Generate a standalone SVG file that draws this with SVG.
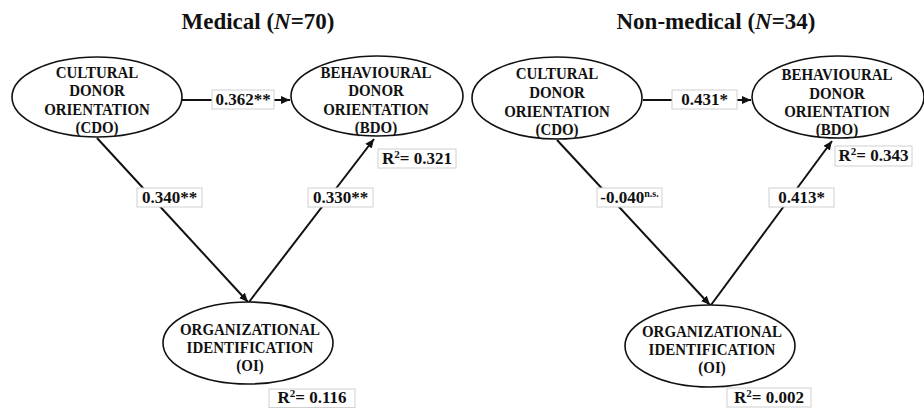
<svg xmlns="http://www.w3.org/2000/svg" width="924" height="408" viewBox="0 0 924 408">
<style>
  .bg{fill:#ffffff}
  .title{font-family:"Liberation Serif","Times New Roman",serif;font-weight:bold;font-size:23px;fill:#111;text-anchor:middle}
  .node ellipse{fill:#fff;stroke:#111;stroke-width:1.6}
  .nt{font-family:"Liberation Serif","Times New Roman",serif;font-weight:bold;font-size:17px;fill:#111;text-anchor:middle}
  .lbl rect{fill:#fff;stroke:#d0d0d0;stroke-width:1}
  .lt{font-family:"Liberation Serif","Times New Roman",serif;font-weight:bold;font-size:17px;fill:#111;text-anchor:middle}
  .edge{stroke:#111;stroke-width:2;fill:none;marker-end:url(#arr)}
</style>
<defs>
  <marker id="arr" markerUnits="userSpaceOnUse" markerWidth="10" markerHeight="10" refX="9" refY="4" orient="auto">
    <path d="M0,0 L9,4 L0,8 Z" fill="#111"/>
  </marker>
</defs>
<rect class="bg" x="0" y="0" width="924" height="408"/>

<text class="title" x="258" y="29">Medical (<tspan font-style="italic">N</tspan>=70)</text>
<text class="title" x="716" y="29">Non-medical (<tspan font-style="italic">N</tspan>=34)</text>

<g id="connectors">
  <line class="edge" x1="182" y1="100" x2="290" y2="100"/>
  <line class="edge" x1="97" y1="138" x2="248" y2="302"/>
  <line class="edge" x1="249" y1="302" x2="374" y2="139"/>
  <line class="edge" x1="643" y1="100" x2="751" y2="100"/>
  <line class="edge" x1="557" y1="140" x2="710" y2="305"/>
  <line class="edge" x1="711" y1="305" x2="832" y2="141"/>
</g>

<g id="m-cdo" class="node">
  <ellipse cx="97" cy="97" rx="85" ry="40"/>
  <g transform="translate(97 0) scale(0.88 1)">
    <text class="nt" x="0" y="78">CULTURAL</text>
    <text class="nt" x="0" y="96">DONOR</text>
    <text class="nt" x="0" y="115">ORIENTATION</text>
    <text class="nt" x="0" y="133">(CDO)</text>
  </g>
</g>
<g id="m-bdo" class="node">
  <ellipse cx="377" cy="96" rx="86" ry="40"/>
  <g transform="translate(376 0) scale(0.88 1)">
    <text class="nt" x="0" y="78">BEHAVIOURAL</text>
    <text class="nt" x="0" y="96">DONOR</text>
    <text class="nt" x="0" y="115">ORIENTATION</text>
    <text class="nt" x="0" y="133">(BDO)</text>
  </g>
</g>
<g id="m-oi" class="node">
  <ellipse cx="248" cy="343" rx="85" ry="41"/>
  <g transform="translate(250 0) scale(0.88 1)">
    <text class="nt" x="0" y="335">ORGANIZATIONAL</text>
    <text class="nt" x="0" y="353">IDENTIFICATION</text>
    <text class="nt" x="0" y="371">(OI)</text>
  </g>
</g>

<g id="n-cdo" class="node">
  <ellipse cx="557" cy="98" rx="85" ry="41"/>
  <g transform="translate(557 0) scale(0.88 1)">
    <text class="nt" x="0" y="79">CULTURAL</text>
    <text class="nt" x="0" y="98">DONOR</text>
    <text class="nt" x="0" y="117">ORIENTATION</text>
    <text class="nt" x="0" y="135">(CDO)</text>
  </g>
</g>
<g id="n-bdo" class="node">
  <ellipse cx="838" cy="97" rx="86" ry="41"/>
  <g transform="translate(837 0) scale(0.88 1)">
    <text class="nt" x="0" y="80">BEHAVIOURAL</text>
    <text class="nt" x="0" y="99">DONOR</text>
    <text class="nt" x="0" y="117">ORIENTATION</text>
    <text class="nt" x="0" y="135">(BDO)</text>
  </g>
</g>
<g id="n-oi" class="node">
  <ellipse cx="710" cy="346" rx="85" ry="41"/>
  <g transform="translate(712 0) scale(0.88 1)">
    <text class="nt" x="0" y="337">ORGANIZATIONAL</text>
    <text class="nt" x="0" y="355">IDENTIFICATION</text>
    <text class="nt" x="0" y="373">(OI)</text>
  </g>
</g>

<g id="labels">
  <g class="lbl"><rect x="212" y="90" width="62" height="19"/><text class="lt" x="243" y="105">0.362**</text></g>
  <g class="lbl"><rect x="137" y="188" width="65" height="19"/><text class="lt" x="169.5" y="203">0.340**</text></g>
  <g class="lbl"><rect x="308" y="188" width="65" height="19"/><text class="lt" x="340.5" y="203">0.330**</text></g>
  <g class="lbl"><rect x="378" y="149" width="78" height="19"/><text class="lt" x="417" y="164">R<tspan font-size="11" dy="-6">2</tspan><tspan dy="6">= 0.321</tspan></text></g>
  <g class="lbl"><rect x="269" y="389" width="86" height="18.5"/><text class="lt" x="312" y="403">R<tspan font-size="11" dy="-6">2</tspan><tspan dy="6">= 0.116</tspan></text></g>

  <g class="lbl"><rect x="672" y="90" width="65" height="19"/><text class="lt" x="704.5" y="105">0.431*</text></g>
  <g class="lbl"><rect x="597" y="188" width="65" height="19"/><text class="lt" x="629.5" y="203">-0.040<tspan font-size="10" dy="-6">n.s.</tspan></text></g>
  <g class="lbl"><rect x="769" y="188" width="65" height="19"/><text class="lt" x="801.5" y="203">0.413*</text></g>
  <g class="lbl"><rect x="835" y="146" width="77" height="20"/><text class="lt" x="873.5" y="161">R<tspan font-size="11" dy="-6">2</tspan><tspan dy="6">= 0.343</tspan></text></g>
  <g class="lbl"><rect x="727" y="388" width="84" height="19"/><text class="lt" x="769" y="403">R<tspan font-size="11" dy="-6">2</tspan><tspan dy="6">= 0.002</tspan></text></g>
</g>
</svg>
